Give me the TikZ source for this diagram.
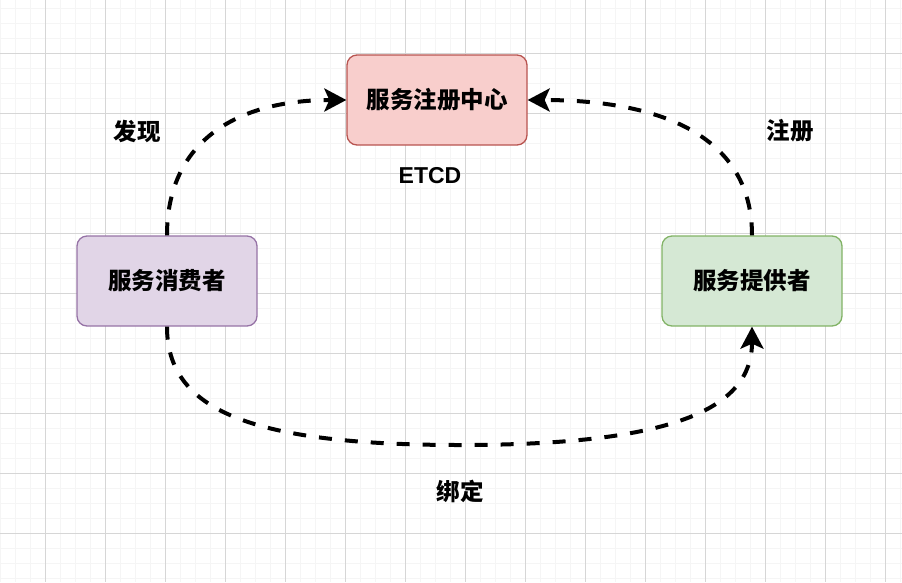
\documentclass[tikz,border=0pt]{standalone}
\usepackage{fontspec}
\setmainfont{Liberation Sans}
\newfontfamily\cjk{Noto Sans CJK SC}
\usetikzlibrary{arrows.meta}
\definecolor{regFill}{HTML}{F8CECC}
\definecolor{regLine}{HTML}{B85450}
\definecolor{conFill}{HTML}{E1D5E7}
\definecolor{conLine}{HTML}{9673A6}
\definecolor{proFill}{HTML}{D5E8D4}
\definecolor{proLine}{HTML}{82B366}
\tikzset{
  boxnode/.style = {rounded corners=10pt, minimum width=180pt, minimum height=90pt, line width=1.3pt, align=center, inner sep=0pt, font=\fontsize{23.5}{28}\selectfont\cjk\bfseries},
  RegNode/.style = {boxnode, draw=regLine, fill=regFill},
  ConNode/.style = {boxnode, draw=conLine, fill=conFill},
  ProNode/.style = {boxnode, draw=proLine, fill=proFill},
  Tag/.style = {inner sep=0pt, font=\fontsize{23.5}{28}\selectfont\cjk\bfseries},
  minorline/.style = {line width=1pt, black!4},
  majorline/.style = {line width=1pt, black!16},
  link/.style = {line width=4pt, dash pattern=on 13pt off 13pt}
}
\begin{document}
\begin{tikzpicture}[x=1pt, y=-1pt, ->, >={Stealth[length=22pt, width=23pt, inset=5pt]}]
  \useasboundingbox (0,0) rectangle (902,582);
  % grid
  \foreach \x in {0,15,...,900} \draw[minorline, -] (\x,0) -- (\x,582);
  \foreach \y in {8,23,...,578} \draw[minorline, -] (0,\y) -- (902,\y);
  \foreach \x in {45,105,...,885} \draw[majorline, -] (\x,0) -- (\x,582);
  \foreach \y in {53,113,...,533} \draw[majorline, -] (0,\y) -- (902,\y);

  \node [RegNode] (reg) at (437,100) {服务注册中心};
  \node [ConNode] (con) at (167,281) {服务消费者};
  \node [ProNode] (pro) at (752,281) {服务提供者};

  \node [Tag] (find) at (137,131) {发现};
  \node [Tag] (sign) at (790,131) {注册};
  \node [Tag] (bind) at (460,491) {绑定};
  \node [inner sep=0pt, font=\fontsize{23}{28}\selectfont\bfseries] (etcd) at (430,176) {ETCD};

  \draw [link] (con.north) .. controls (167,141) and (237,100) .. (reg.west);
  \draw [link] (pro.north) .. controls (752,130) and (650,100) .. (reg.east);
  \draw [link] (con.south) .. controls (167,410) and (250,445) .. (460,445)
               .. controls (670,445) and (752,410) .. (pro.south);
\end{tikzpicture}
\end{document}
